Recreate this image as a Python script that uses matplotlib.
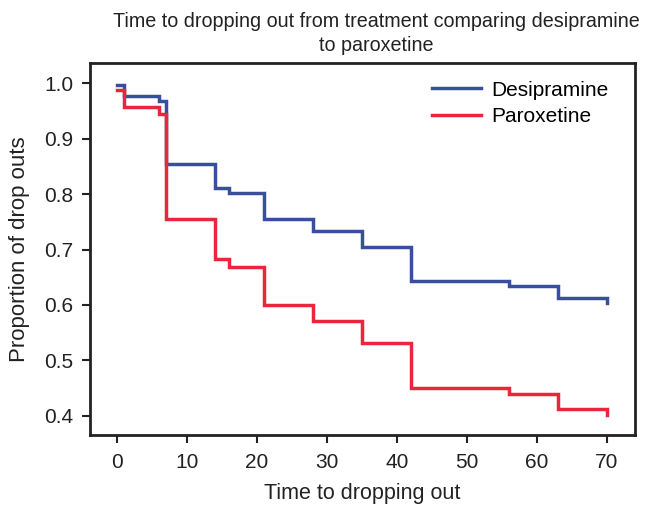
import matplotlib
matplotlib.use("Agg")
import matplotlib.pyplot as plt

plt.rcParams['font.family'] = ['Liberation Sans', 'DejaVu Sans']

times = [0, 1, 6, 7, 14, 16, 21, 28, 35, 42, 56, 63, 70]
desipramine = [0.997, 0.977, 0.967, 0.854, 0.810, 0.801, 0.755, 0.734, 0.705, 0.643, 0.634, 0.613, 0.604]
paroxetine = [0.987, 0.957, 0.944, 0.755, 0.683, 0.668, 0.600, 0.571, 0.532, 0.451, 0.440, 0.413, 0.402]

xticks = [0, 10, 20, 30, 40, 50, 60, 70]
yticks = [0.4, 0.5, 0.6, 0.7, 0.8, 0.9, 1.0]

blue = '#3a4ea0'
red = '#e8273d'
ink = '#222222'

fig = plt.figure(figsize=(6.47, 5.05), dpi=100)
ax = fig.add_axes([0.139, 0.139, 0.842, 0.736])

def km(t, v):
    xs, ys = [], []
    for i in range(len(t) - 1):
        xs += [t[i], t[i + 1]]
        ys += [v[i], v[i]]
    xs.append(t[-1]); ys.append(v[-1])
    return xs, ys

x, y = km(times, desipramine)
ax.plot(x, y, color=blue, lw=2.5, label='Desipramine', solid_joinstyle='miter')
x, y = km(times, paroxetine)
ax.plot(x, y, color=red, lw=2.5, label='Paroxetine', solid_joinstyle='miter')

ax.set_xlim(-3.9, 74)
ax.set_ylim(0.366, 1.036)
ax.set_xticks(xticks)
ax.set_xticklabels([str(v) for v in xticks])
ax.set_yticks(yticks)
ax.set_yticklabels([f'{v:.1f}' for v in yticks])
ax.tick_params(direction='out', length=6, width=1.5, labelsize=15, colors=ink)
ax.tick_params(axis='x', pad=7)
ax.tick_params(axis='y', pad=6)
for s in ax.spines.values():
    s.set_linewidth(2)
    s.set_color(ink)

ax.set_xlabel('Time to dropping out', fontsize=15.5, color=ink, labelpad=8)
ax.set_ylabel('Proportion of drop outs', fontsize=16, color=ink, labelpad=10)
ax.set_title('Time to dropping out from treatment comparing desipramine\nto paroxetine',
             fontsize=14.2, color=ink, pad=9, linespacing=1.3)
ax.title.set_x(0.525)

ax.legend(loc='upper right', frameon=False, fontsize=15, handlelength=2.35,
          handletextpad=0.5, bbox_to_anchor=(0.967, 0.975), borderaxespad=0,
          labelspacing=0.35)

fig.savefig('out.png', dpi=100)
